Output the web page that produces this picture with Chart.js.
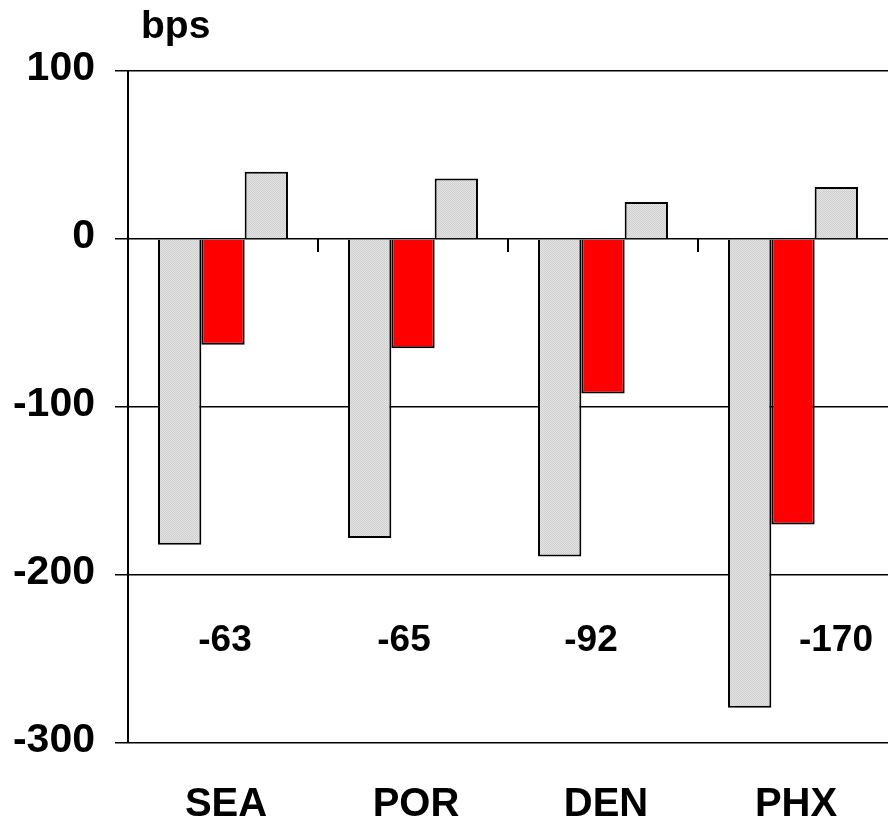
<!DOCTYPE html>
<html>
<head>
<meta charset="utf-8">
<script src="https://cdn.jsdelivr.net/npm/chart.js@4.4.1/dist/chart.umd.min.js"></script>
<style>
  html, body { margin: 0; padding: 0; background: #fff; }
  #wrap { width: 888px; height: 824px; position: relative; }
</style>
</head>
<body>
<div id="wrap"><canvas id="bpschart"></canvas></div>
<script>
// data
const cities = ['SEA', 'POR', 'DEN', 'PHX'];
const greyLeft = [-182, -178, -189, -279];
const redVals = [-63, -65, -92, -170];
const greyRight = [40, 36, 22, 31];
const yTicks = [100, 0, -100, -200, -300];

// hatched light grey fill
function greyPattern() {
    var c = document.createElement('canvas');
    c.width = 2; c.height = 2;
    var g = c.getContext('2d');
    g.fillStyle = '#e4e4e4';
    g.fillRect(0, 0, 2, 2);
    g.fillStyle = '#cfcfcf';
    g.fillRect(0, 0, 1, 1);
    g.fillRect(1, 1, 1, 1);
    return g.createPattern(c, 'repeat');
}
const grey = greyPattern();

function txt(ctx, s, x, y, size, align, base) {
    ctx.font = 'bold ' + size + 'px "Liberation Sans", Arial, sans-serif';
    ctx.textAlign = align;
    ctx.textBaseline = base;
    ctx.fillText(s, x, y);
}

// labels + little ticks on the zero line
const extras = {
    id: 'extras',
    afterDatasetsDraw(chart) {
        const ctx = chart.ctx;
        const x = chart.scales.x, y = chart.scales.y;
        const y0 = y.getPixelForValue(0);
        ctx.save();
        ctx.strokeStyle = '#000';
        ctx.lineWidth = 2;
        for (let i = 1; i < cities.length; i++) {
            const bx = (x.getPixelForValue(i - 1) + x.getPixelForValue(i)) / 2;
            ctx.beginPath();
            ctx.moveTo(bx, y0);
            ctx.lineTo(bx, y0 + 13);
            ctx.stroke();
        }
        ctx.fillStyle = '#000';

        // y tick labels
        for (const v of yTicks) {
            txt(ctx, String(v), 95, y.getPixelForValue(v) - 2, 41, 'right', 'middle');
        }
        // category labels
        for (let i = 0; i < cities.length; i++) {
            txt(ctx, cities[i], x.getPixelForValue(i) + 3, 816, 40, 'center', 'alphabetic');
        }
        // value labels
        const shift = [2, -9, -12, 43];
        const ly = y.getPixelForValue(-239);
        for (let i = 0; i < redVals.length; i++) {
            txt(ctx, String(redVals[i]), x.getPixelForValue(i) + shift[i], ly, 37, 'center', 'middle');
        }
        // unit label
        txt(ctx, 'bps', 141, 38, 39, 'left', 'alphabetic');
        ctx.restore();
    }
};

const data1 = {
    labels: cities,
    datasets: [{
        data: greyLeft,
        backgroundColor: grey,
        borderColor: '#000',
        borderWidth: 2
    }, {
        data: redVals,
        backgroundColor: '#ff0000',
        borderColor: '#000',
        borderWidth: 2
    }, {
        data: greyRight,
        backgroundColor: grey,
        borderColor: '#000',
        borderWidth: 2
    }]
};

const config1 = {
    type: 'bar',
    data: data1,
    options: {
        responsive: false,
        animation: false,
        devicePixelRatio: 1,
        categoryPercentage: 0.684,
        barPercentage: 1.0,
        layout: { padding: { top: 71, right: 0, left: 0, bottom: 0 } },
        scales: {
            x: {
                grid: { display: false },
                border: { display: false },
                ticks: { display: false },
                afterFit: function (s) { s.height = 81; }
            },
            y: {
                min: -300,
                max: 100,
                afterBuildTicks: function (s) { s.ticks = yTicks.map(v => ({ value: v })); },
                grid: { color: '#000', lineWidth: 1.5, tickLength: 13, tickColor: '#000' },
                border: { display: true, color: '#000', width: 2 },
                ticks: { display: false },
                afterFit: function (s) { s.width = 128; }
            }
        },
        plugins: {
            legend: { display: false },
            tooltip: { enabled: false }
        }
    },
    plugins: [extras]
};

const cv = document.getElementById('bpschart');
cv.width = 888; cv.height = 824;
var myChart1 = new Chart(cv, config1);
</script>
</body>
</html>
